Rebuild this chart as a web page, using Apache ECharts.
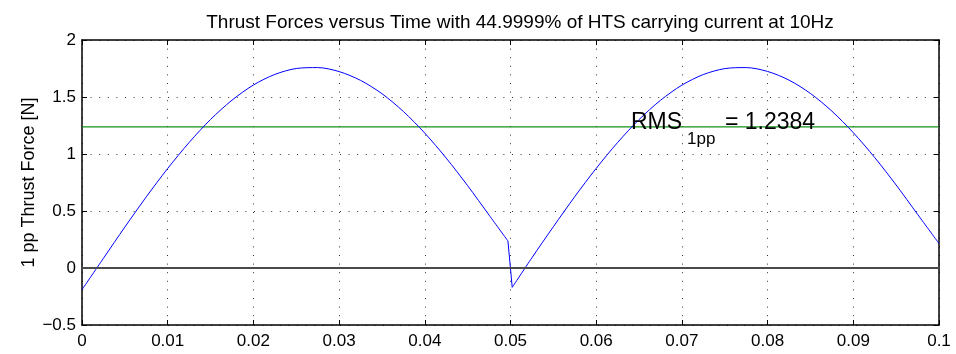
<!DOCTYPE html>
<html>
<head>
<meta charset="utf-8">
<script src="https://cdn.jsdelivr.net/npm/echarts@6/dist/echarts.min.js"></script>
<style>
  html, body { margin: 0; padding: 0; background: #fff; }
  #chart { width: 956px; height: 354px; }
</style>
</head>
<body>
<div id="chart"></div>
<script>
// Time samples [s] and first-pole-pair thrust force [N]
const timeS = [
  0, 0.0025, 0.005, 0.0075, 0.01, 0.0125, 0.015, 0.0175, 0.02, 0.0225,
  0.025, 0.0275, 0.03, 0.0325, 0.035, 0.0375, 0.04, 0.0425, 0.045, 0.0475, 0.0497,
  0.0502, 0.0525, 0.055, 0.0575, 0.06, 0.0625, 0.065, 0.0675, 0.07, 0.0725,
  0.075, 0.0775, 0.08, 0.0825, 0.085, 0.0875, 0.09, 0.0925, 0.095, 0.0975, 0.1
];
const thrustN = [
  -0.19, 0.085, 0.359, 0.624, 0.873, 1.101, 1.303, 1.472, 1.605, 1.698,
  1.750, 1.758, 1.723, 1.646, 1.529, 1.373, 1.183, 0.964, 0.722, 0.464, 0.237,
  -0.17, 0.09, 0.362, 0.626, 0.874, 1.101, 1.302, 1.471, 1.604, 1.697,
  1.749, 1.758, 1.724, 1.648, 1.531, 1.376, 1.187, 0.969, 0.728, 0.471, 0.215
];
// index of the first sample after the switching instant at t = 0.05 s
const switchIndex = 21;

const rmsValue = 1.2384;
const rmsLabelAt = 0.06406;

const xTickLabels = ['0', '0.01', '0.02', '0.03', '0.04', '0.05', '0.06', '0.07', '0.08', '0.09', '0.1'];
const yTickLabels = ['\u22120.5', '0', '0.5', '1', '1.5', '2'];

const FONT = 'Liberation Sans, Arial, Helvetica, sans-serif';

const thrustData = timeS.map((t, i) => [t, thrustN[i]]);
const firstHalf = thrustData.slice(0, switchIndex);
const jump = thrustData.slice(switchIndex - 1, switchIndex + 1);
const secondHalf = thrustData.slice(switchIndex);
const rmsData = [[0, rmsValue], [0.1, rmsValue]];

const dotted = { show: true, lineStyle: { color: '#333', width: 1, type: [1, 7.6] } };
const tickIn = { show: true, inside: true, length: 5, lineStyle: { color: '#000', width: 1 } };
const frameLine = { show: true, onZero: false, lineStyle: { color: '#000', width: 1.5 } };
const blueLine = { color: '#0000ff', width: 1 };

const chart = echarts.init(document.getElementById('chart'), null, { renderer: 'canvas' });

const curve = (data, smooth) => ({
  type: 'line', data, xAxisIndex: 0, yAxisIndex: 0,
  showSymbol: false, symbol: 'none', smooth,
  lineStyle: blueLine, z: 3
});

chart.setOption({
  animation: false,
  backgroundColor: '#fff',
  title: {
    text: 'Thrust Forces versus Time with 44.9999% of HTS carrying current at 10Hz',
    left: 515, top: 8, textAlign: 'center',
    textStyle: { fontFamily: FONT, fontSize: 19, fontWeight: 'normal', color: '#000' }
  },
  grid: { left: 82, right: 17, top: 40, bottom: 29, containLabel: false },
  xAxis: [
    {
      type: 'value', position: 'bottom', min: 0, max: 0.1, interval: 0.01,
      axisLine: frameLine, axisTick: tickIn, splitLine: dotted,
      axisLabel: {
        margin: 8, color: '#000', fontFamily: FONT, fontSize: 17,
        formatter: (v) => xTickLabels[Math.round(v / 0.01)]
      }
    },
    {
      type: 'value', position: 'top', min: 0, max: 0.1, interval: 0.01,
      axisLine: frameLine, axisTick: tickIn, splitLine: { show: false },
      axisLabel: { show: false }
    }
  ],
  yAxis: [
    {
      type: 'value', position: 'left', min: -0.5, max: 2, interval: 0.5,
      axisLine: frameLine, axisTick: tickIn, splitLine: dotted,
      name: '1 pp Thrust Force [N]', nameLocation: 'middle', nameGap: 44,
      nameMoveOverlap: false,
      nameTextStyle: { fontFamily: FONT, fontSize: 18, color: '#000' },
      axisLabel: {
        margin: 6, color: '#000', fontFamily: FONT, fontSize: 17,
        formatter: (v) => yTickLabels[Math.round((v + 0.5) / 0.5)]
      }
    },
    {
      type: 'value', position: 'right', min: -0.5, max: 2, interval: 0.5,
      axisLine: frameLine, axisTick: tickIn, splitLine: { show: false },
      axisLabel: { show: false }
    }
  ],
  series: [
    Object.assign(curve(firstHalf, 0.3), {
      markLine: {
        silent: true, symbol: 'none', label: { show: false },
        lineStyle: { color: '#4a4a4a', width: 2, type: 'solid' },
        data: [{ yAxis: 0 }]
      }
    }),
    curve(jump, false),
    curve(secondHalf, 0.3),
    {
      name: 'rms', type: 'line', data: rmsData,
      xAxisIndex: 0, yAxisIndex: 0,
      showSymbol: false, symbol: 'none',
      lineStyle: { color: '#16901a', width: 1.2 },
      z: 2
    }
  ]
});

// RMS annotation with subscript, anchored in data coordinates
const anchor = chart.convertToPixel({ gridIndex: 0 }, [rmsLabelAt, rmsValue]);
chart.setOption({
  graphic: [
    { type: 'text', x: anchor[0], y: anchor[1] - 4, z: 10,
      style: { text: 'RMS', font: '23px ' + FONT, fill: '#000', verticalAlign: 'middle', align: 'left' } },
    { type: 'text', x: anchor[0] + 56, y: anchor[1] + 12, z: 10,
      style: { text: '1pp', font: '17px ' + FONT, fill: '#000', verticalAlign: 'middle', align: 'left' } },
    { type: 'text', x: anchor[0] + 94, y: anchor[1] - 4, z: 10,
      style: { text: '= 1.2384', font: '23px ' + FONT, fill: '#000', verticalAlign: 'middle', align: 'left' } }
  ]
});
</script>
</body>
</html>
